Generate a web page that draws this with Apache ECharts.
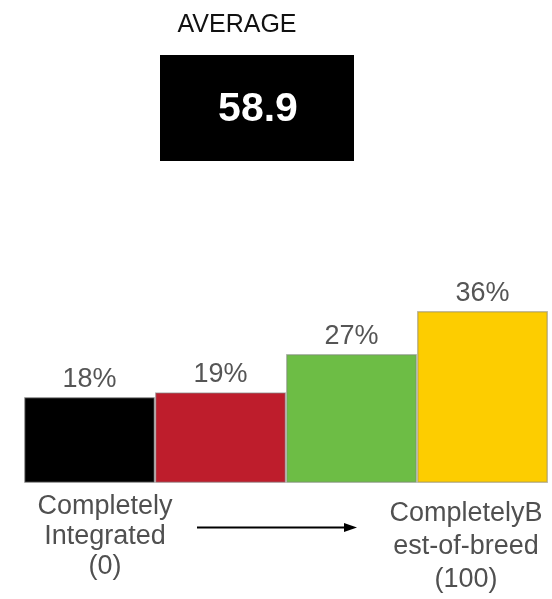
<!DOCTYPE html>
<html>
<head>
<meta charset="utf-8">
<style>
  html, body { margin: 0; padding: 0; background: #ffffff; }
  #chart { width: 552px; height: 599px; }
</style>
<script src="https://cdn.jsdelivr.net/npm/echarts@6/dist/echarts.min.js"></script>
</head>
<body>
<div id="chart"></div>
<script>
// Share of respondents per position on the integrated / best-of-breed scale
const categories = ['Completely Integrated', 'Mostly Integrated', 'Mostly Best-of-breed', 'Completely Best-of-breed'];
const shares = [18, 19, 27, 36];
const barColors = ['#000000', '#be1d2c', '#6dbd45', '#fdcd00'];
const averageScore = '58.9';
const averageTitle = 'AVERAGE';
const leftEndLabel = ['Completely', 'Integrated', '(0)'];
const rightEndLabel = ['CompletelyB', 'est-of-breed', '(100)'];

const FONT = '"Liberation Sans", Arial, Helvetica, sans-serif';
const chart = echarts.init(document.getElementById('chart'), null, { renderer: 'canvas' });

chart.setOption({
  animation: false,
  backgroundColor: '#ffffff',
  grid: { left: 24, right: 4, top: 292, bottom: 116 },
  xAxis: {
    type: 'category',
    data: categories,
    show: false
  },
  yAxis: {
    type: 'value',
    min: 0,
    max: 40,
    show: false
  },
  series: [{
    type: 'bar',
    data: shares.map((v, i) => ({
      value: v,
      itemStyle: { color: barColors[i] }
    })),
    barCategoryGap: 0,
    itemStyle: {
      borderColor: 'rgba(130,130,130,0.5)',
      borderWidth: 1.5
    },
    label: {
      show: true,
      position: 'top',
      distance: 4,
      formatter: '{c}%',
      fontFamily: FONT,
      fontSize: 27,
      color: '#555555'
    }
  }],
  graphic: [
    {
      type: 'text',
      x: 237, y: 25,
      style: {
        text: averageTitle,
        font: '25px ' + FONT,
        fill: '#111111',
        textAlign: 'center',
        textVerticalAlign: 'middle'
      }
    },
    {
      type: 'rect',
      shape: { x: 160, y: 55, width: 194, height: 106 },
      style: { fill: '#000000' }
    },
    {
      type: 'text',
      x: 258, y: 110,
      style: {
        text: averageScore,
        font: 'bold 41px ' + FONT,
        fill: '#ffffff',
        textAlign: 'center',
        textVerticalAlign: 'middle'
      }
    },
    {
      type: 'text',
      x: 105, y: 492,
      style: {
        text: leftEndLabel.join('\n'),
        font: '27px ' + FONT,
        lineHeight: 30,
        fill: '#505050',
        textAlign: 'center',
        textVerticalAlign: 'top'
      }
    },
    {
      type: 'text',
      x: 466, y: 497,
      style: {
        text: rightEndLabel.join('\n'),
        font: '27px ' + FONT,
        lineHeight: 33,
        fill: '#505050',
        textAlign: 'center',
        textVerticalAlign: 'top'
      }
    },
    {
      type: 'line',
      shape: { x1: 197, y1: 527.5, x2: 346, y2: 527.5 },
      style: { stroke: '#000000', lineWidth: 2 }
    },
    {
      type: 'polygon',
      shape: { points: [[344, 523], [357, 527.5], [344, 532]] },
      style: { fill: '#000000' }
    }
  ]
});
</script>
</body>
</html>
